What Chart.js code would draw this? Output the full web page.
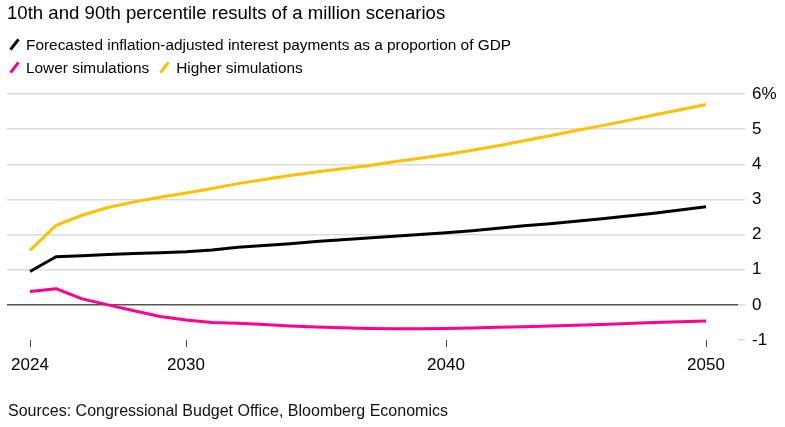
<!DOCTYPE html>
<html>
<head>
<meta charset="utf-8">
<script src="https://cdn.jsdelivr.net/npm/chart.js@4"></script>
<style>
  body { margin: 0; background: #fff; font-family: "Liberation Sans", Arial, sans-serif; color: #000; }
  #wrap { position: relative; width: 785px; height: 427px; overflow: hidden; }
  #chart { position: absolute; left: 0; top: 0; }
  .txt { position: absolute; white-space: nowrap; }
  #title { left: 7px; top: 2px; font-size: 18.6px; }
  .leg { font-size: 15.4px; left: 8px; }
  .sw { display: inline-block; width: 3px; height: 13px; transform: rotate(38deg); margin: 0 10px 0 5px; vertical-align: -1px; }
  #source { left: 8px; top: 402px; font-size: 16px; color: #111; }
</style>
</head>
<body>
<div id="wrap">
  <canvas id="chart" width="785" height="427"></canvas>
  <div id="title" class="txt">10th and 90th percentile results of a million scenarios</div>
  <div class="txt leg" style="top:36px"><span class="sw" style="background:#000"></span>Forecasted inflation-adjusted interest payments as a proportion of GDP</div>
  <div class="txt leg" style="top:59px"><span class="sw" style="background:#ff0090"></span>Lower simulations<span class="sw" style="background:#ffc000;margin-left:14px"></span>Higher simulations</div>
  <div id="source" class="txt">Sources: Congressional Budget Office, Bloomberg Economics</div>
</div>
<script>
var years = [2024, 2025, 2026, 2027, 2028, 2029, 2030, 2031, 2032, 2033, 2034, 2035, 2036, 2037,
             2038, 2039, 2040, 2041, 2042, 2043, 2044, 2045, 2046, 2047, 2048, 2049, 2050];
var forecast = [0.95, 1.37, 1.40, 1.43, 1.46, 1.48, 1.51, 1.56, 1.64, 1.69, 1.74, 1.80, 1.85, 1.90,
                1.95, 2.00, 2.05, 2.11, 2.18, 2.25, 2.31, 2.38, 2.45, 2.53, 2.61, 2.70, 2.79];
var lower = [0.38, 0.46, 0.17, 0.00, -0.17, -0.33, -0.43, -0.50, -0.52, -0.56, -0.60, -0.63, -0.65, -0.67,
             -0.68, -0.68, -0.67, -0.66, -0.64, -0.62, -0.60, -0.58, -0.56, -0.53, -0.50, -0.48, -0.46];
var higher = [1.55, 2.26, 2.55, 2.77, 2.93, 3.06, 3.18, 3.31, 3.45, 3.57, 3.68, 3.78, 3.87, 3.96,
              4.07, 4.17, 4.28, 4.40, 4.53, 4.67, 4.81, 4.96, 5.10, 5.25, 5.40, 5.55, 5.70];
var xTicks = [2024, 2030, 2040, 2050];
var yTicks = [-1, 0, 1, 2, 3, 4, 5, 6];

function pts(vals) {
    return vals.map(function (v, i) { return { x: years[i], y: v }; });
}

function series(label, vals, color) {
    return {
        label: label,
        data: pts(vals),
        borderColor: color,
        backgroundColor: color,
        borderWidth: 3,
        pointRadius: 0,
        tension: 0,
        borderCapStyle: 'butt',
        borderJoinStyle: 'round'
    };
}

var ctx = document.getElementById("chart");
var chart = new Chart(ctx, {
    type: 'line',
    data: {
        datasets: [
            series('Higher simulations', higher, '#ffc000'),
            series('Lower simulations', lower, '#ff0090'),
            series('Forecasted inflation-adjusted interest payments as a proportion of GDP', forecast, '#000000')
        ]
    },
    options: {
        responsive: false,
        animation: false,
        layout: { padding: { left: 7, top: 94, right: 0, bottom: 0 } },
        plugins: { legend: { display: false }, tooltip: { enabled: false } },
        scales: {
            x: {
                type: 'linear',
                min: 2024 - 23 / 26,
                max: 2050 + 32 / 26,
                afterBuildTicks: function (s) { s.ticks = xTicks.map(function (v) { return { value: v }; }); },
                afterFit: function (s) { s.height = 87; },
                border: { display: false },
                grid: { drawOnChartArea: false, tickLength: 7, tickColor: '#444', lineWidth: 1 },
                ticks: {
                    padding: 8,
                    color: '#000',
                    font: { family: 'Liberation Sans', size: 17 },
                    maxRotation: 0,
                    callback: function (v) { return String(v); }
                }
            },
            y: {
                position: 'right',
                min: -1,
                max: 6,
                afterBuildTicks: function (s) { s.ticks = yTicks.map(function (v) { return { value: v }; }); },
                afterFit: function (s) { s.width = 47; },
                border: { display: false },
                grid: {
                    tickLength: 7,
                    lineWidth: 1.5,
                    color: function (c) {
                        if (!c.tick) return '#dcdcdc';
                        if (c.tick.value === 0) return '#555';
                        if (c.tick.value === -1) return 'rgba(0,0,0,0)';
                        return '#dcdcdc';
                    },
                    tickColor: '#dcdcdc'
                },
                ticks: {
                    padding: 7,
                    color: '#000',
                    align: 'center',
                    crossAlign: 'near',
                    font: { family: 'Liberation Sans', size: 17 },
                    callback: function (v) { return v === 6 ? '6%' : String(v); }
                }
            }
        }
    }
});
</script>
</body>
</html>
